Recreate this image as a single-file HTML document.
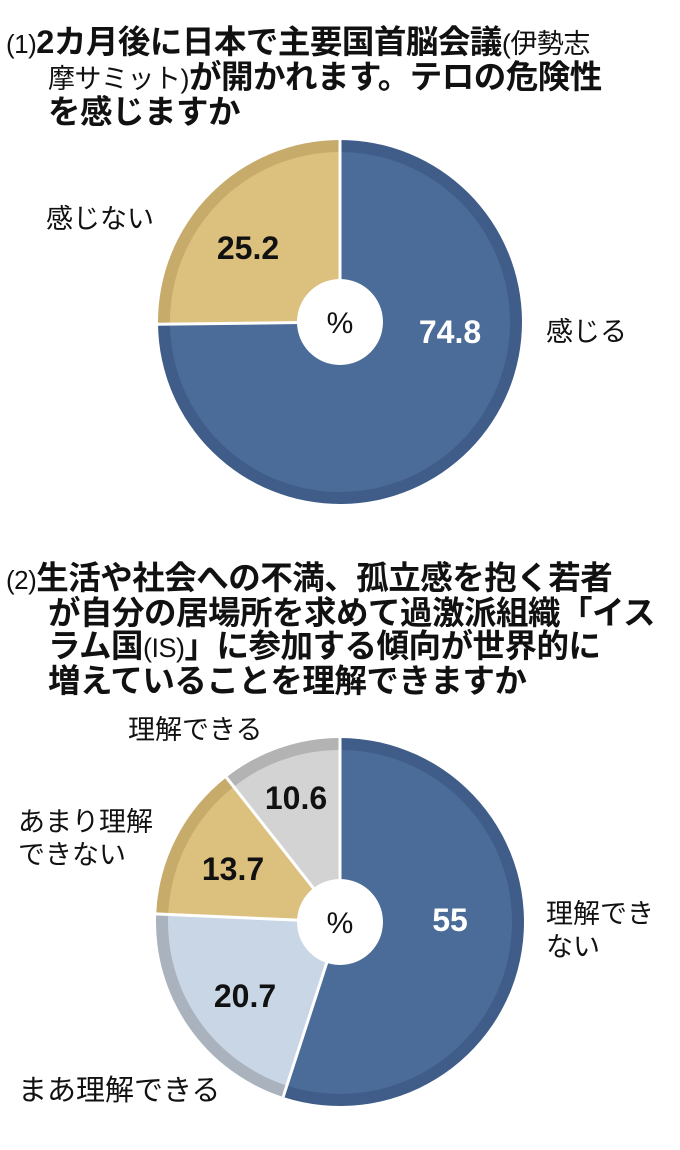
<!DOCTYPE html>
<html><head><meta charset="utf-8"><style>
body{margin:0;background:#fff;width:680px;height:1150px;overflow:hidden;font-family:"Liberation Sans","Noto Sans CJK JP",sans-serif}
.t{position:absolute;left:6px;font-size:32.5px;font-weight:bold;color:#111;line-height:33px;white-space:nowrap;letter-spacing:-0.5px}
.n{font-weight:normal;font-size:26px}
.s{font-weight:normal;font-size:27px}
</style></head><body>
<div class="t" style="top:26px"><span class="n">(1)</span>2カ月後に日本で主要国首脳会議<span class="s">(伊勢志</span><br><span style="padding-left:42px"><span class="s">摩サミット)</span>が開かれます。テロの危険性</span><br><span style="padding-left:42px">を感じますか</span></div>
<div class="t" style="top:562px"><span class="n">(2)</span>生活や社会への不満、孤立感を抱く若者<br><span style="padding-left:42px">が自分の居場所を求めて過激派組織「イス</span><br><span style="padding-left:42px">ラム国<span class="s">(IS)</span>」に参加する傾向が世界的に</span><br><span style="padding-left:42px">増えていることを理解できますか</span></div>
<svg id="g" width="680" height="1150" style="position:absolute;left:0;top:0" font-family="Liberation Sans, Noto Sans CJK JP, sans-serif"></svg>
<script>
const g=document.getElementById('g');let h='';
function pt(cx,cy,r,a){a=a*Math.PI/180;return [cx+r*Math.sin(a),cy-r*Math.cos(a)];}
function sec(cx,cy,r,a0,a1,c){const p=pt(cx,cy,r,a0),q=pt(cx,cy,r,a1);const l=(a1-a0)>180?1:0;
return `<path d="M${cx},${cy}L${p[0]},${p[1]}A${r},${r} 0 ${l} 1 ${q[0]},${q[1]}Z" fill="${c}"/>`;}
function pie(cx,cy,R,segs){let a=0;for(const s of segs){const b=a+s[0]*3.6;h+=sec(cx,cy,R,a,b,s[2]);h+=sec(cx,cy,R-12,a,b,s[1]);a=b;}
a=0;for(const s of segs){const p=pt(cx,cy,R+1,a);h+=`<line x1="${cx}" y1="${cy}" x2="${p[0]}" y2="${p[1]}" stroke="#fff" stroke-width="3"/>`;a+=s[0]*3.6;}
h+=`<circle cx="${cx}" cy="${cy}" r="43" fill="#fff"/><text x="${cx}" y="${cy+11}" font-size="30" text-anchor="middle" fill="#111">%</text>`;}
const B=['#4b6b98','#3f5d88'],T=['#dcc07e','#c7ab6b'],L=['#c9d6e6','#a9b2bd'],G=['#d3d3d3','#b3b3b3'];
pie(340,322,182,[[74.8,B[0],B[1]],[25.2,T[0],T[1]]]);
pie(340,922,184,[[55,B[0],B[1]],[20.7,L[0],L[1]],[13.7,T[0],T[1]],[10.6,G[0],G[1]]]);
function tx(x,y,s,sz,c,w,anc){h+=`<text x="${x}" y="${y}" font-size="${sz}" fill="${c}" font-weight="${w}" text-anchor="${anc||'start'}">${s}</text>`;}
tx(248,259,'25.2',32,'#111','bold','middle');tx(450,343,'74.8',32,'#fff','bold','middle');
tx(46,228,'感じない',27,'#111','normal');tx(546,341,'感じる',27,'#111','normal');
tx(296,809,'10.6',32,'#111','bold','middle');tx(233,880,'13.7',32,'#111','bold','middle');
tx(245,1007,'20.7',32,'#111','bold','middle');tx(450,931,'55',32,'#fff','bold','middle');
tx(128,739,'理解できる',27,'#111','normal');tx(18,831,'あまり理解',27,'#111','normal');tx(18,864,'できない',27,'#111','normal');
tx(546,923,'理解でき',27,'#111','normal');tx(546,956,'ない',27,'#111','normal');tx(18,1100,'まあ理解できる',29,'#111','normal');
g.innerHTML=h;
</script>
</body></html>
